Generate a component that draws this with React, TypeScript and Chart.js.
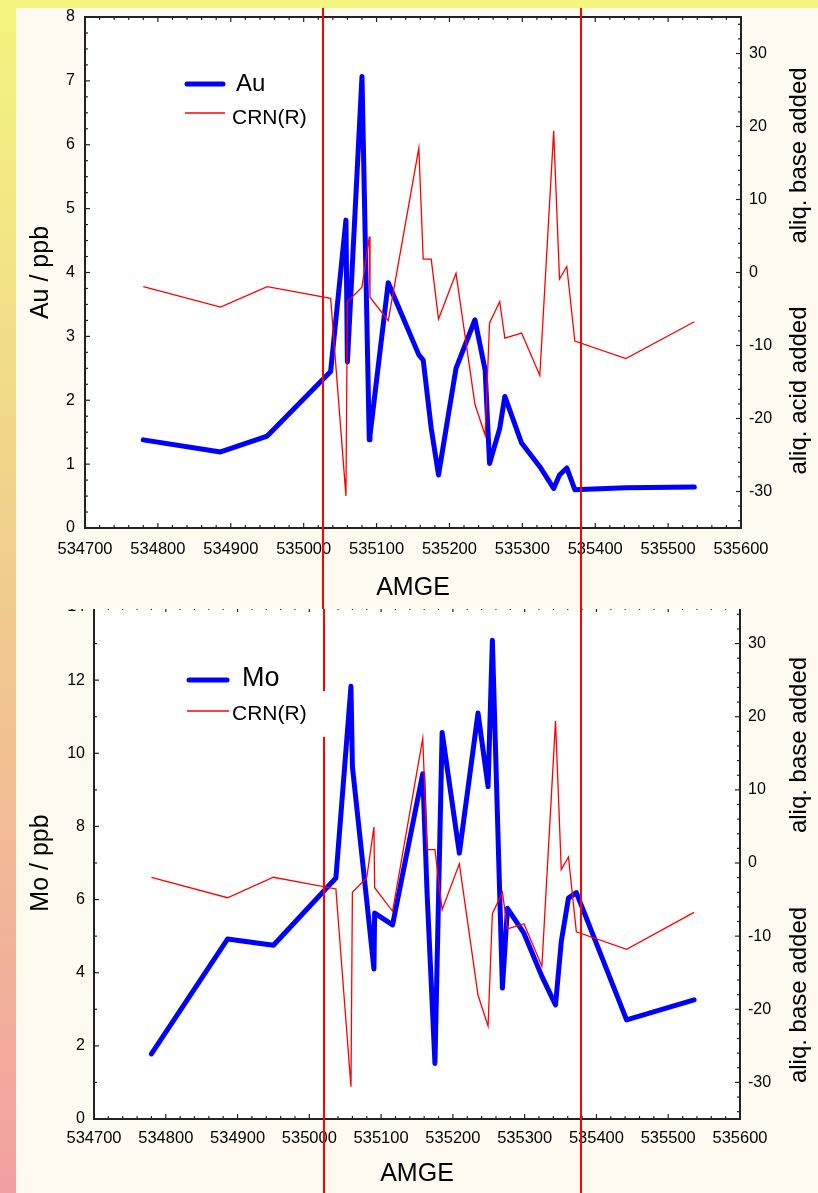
import React, { useEffect, useRef } from "react";
import { Chart, registerables } from "chart.js";

Chart.register(...registerables);

// ---------- data ----------
const AMGE = [
  534780, 534886, 534950, 535037, 535058, 535060, 535080, 535090, 535091, 535116,
  535158, 535164, 535175, 535185, 535209, 535235, 535249, 535255, 535269, 535276,
  535299, 535324, 535343, 535351, 535361, 535372, 535442, 535536,
];
const AU = [
  1.38, 1.19, 1.44, 2.45, 4.82, 2.6, 7.07, 1.38, 1.45, 3.84,
  2.71, 2.63, 1.56, 0.83, 2.5, 3.26, 2.47, 1.01, 1.56, 2.06,
  1.33, 0.96, 0.62, 0.83, 0.94, 0.6, 0.63, 0.64,
];
const MO = [
  1.78, 4.92, 4.75, 6.59, 11.83, 9.64, 5.97, 4.1, 5.63, 5.31,
  9.44, 6.2, 1.52, 10.57, 7.27, 11.1, 9.09, 13.09, 3.58, 5.76,
  5.08, 3.9, 3.12, 4.85, 6.04, 6.19, 2.71, 3.26,
];
const CRN = [
  -1.95, -4.75, -1.95, -3.55, -30.6, -4.0, -2.0, 4.92, -3.38, -6.6,
  17.05, 1.82, 1.82, -6.38, -0.12, -18.05, -22.3, -6.92, -4.0, -9.0,
  -8.3, -14.1, 19.4, -0.9, 0.82, -9.4, -11.8, -6.75,
];
const X_TICKS = [534700, 534800, 534900, 535000, 535100, 535200, 535300, 535400, 535500, 535600];
const AU_TICKS = [0, 1, 2, 3, 4, 5, 6, 7, 8];
const MO_TICKS = [0, 2, 4, 6, 8, 10, 12, 14];
const CRN_TICKS = [-30, -20, -10, 0, 10, 20, 30];
const AU_MARKERS = [535027, 535380];
const MO_MARKERS = [535020, 535379];

// ---------- styles ----------
const FONT = '"Liberation Sans", Arial, Helvetica, sans-serif';
const BLUE = "#0000FF";
const RED = "#FF0000";
const AXIS = "#222222";
const CREAM = "#FEFAF0";

type LegendCfg = {
  dx: number;
  dy: number;
  lineLen: number;
  rowGap: number;
  sizes: number[];
  gaps: number[];
  textDy: number[];
  patch: null | { l: number; r: number; t: number; b: number };
};

type PanelCfg = {
  label: string;
  values: number[];
  yMax: number;
  leftTicks: number[];
  leftMinor: number;
  markers: number[];
  leftTitle: string;
  rightTitles: string[];
  rightOffsets: number[];
  areaTop: number;
  leftWidth: number;
  rightWidth: number;
  bottomHeight: number;
  xLabelPad: number;
  yLabelPad: number;
  xTitleDy: number;
  legend: LegendCfg;
};

const UPPER: PanelCfg = {
  label: "Au",
  values: AU,
  yMax: 8,
  leftTicks: AU_TICKS,
  leftMinor: 0.25,
  markers: AU_MARKERS,
  leftTitle: "Au / ppb",
  rightTitles: ["aliq. base added", "aliq. acid added"],
  rightOffsets: [-117, 118],
  areaTop: 9,
  leftWidth: 69,
  rightWidth: 77,
  bottomHeight: 81,
  xLabelPad: 13,
  yLabelPad: 10,
  xTitleDy: 60,
  legend: {
    dx: 100,
    dy: 67,
    lineLen: 40,
    rowGap: 29,
    sizes: [24, 21],
    gaps: [11, 7],
    textDy: [0, 5],
    patch: null,
  },
};

const LOWER: PanelCfg = {
  label: "Mo",
  values: MO,
  yMax: 14,
  leftTicks: MO_TICKS,
  leftMinor: 1,
  markers: MO_MARKERS,
  leftTitle: "Mo / ppb",
  rightTitles: ["aliq. base added", "aliq. base added"],
  rightOffsets: [-118, 132],
  areaTop: 17,
  leftWidth: 78,
  rightWidth: 78,
  bottomHeight: 74,
  xLabelPad: 11,
  yLabelPad: 9,
  xTitleDy: 55,
  legend: {
    dx: 93,
    dy: 73,
    lineLen: 42,
    rowGap: 31,
    sizes: [27, 21],
    gaps: [13, 3],
    textDy: [-1, 3],
    patch: { l: -7, r: 140, t: -20, b: 26 },
  },
};

function stepValues(min: number, max: number, step: number): number[] {
  const out: number[] = [];
  const start = Math.ceil(min / step - 1e-9) * step;
  for (let v = start; v <= max + 1e-9; v += step) out.push(+v.toFixed(6));
  return out;
}

function clearPad(s: any) {
  s.paddingTop = 0;
  s.paddingBottom = 0;
  s.paddingLeft = 0;
  s.paddingRight = 0;
}

function makeDecor(cfg: PanelCfg) {
  return {
    id: "panelDecor",
    beforeDraw(chart: any) {
      const { ctx, chartArea: a } = chart;
      ctx.save();
      ctx.fillStyle = "#FFFFFF";
      ctx.fillRect(a.left, a.top, a.right - a.left, a.bottom - a.top);
      ctx.restore();
    },
    afterDatasetsDraw(chart: any) {
      const { ctx, chartArea: a, scales } = chart;
      ctx.save();
      ctx.strokeStyle = AXIS;
      ctx.lineWidth = 1.2;
      const seg = (x1: number, y1: number, x2: number, y2: number) => {
        ctx.beginPath();
        ctx.moveTo(x1, y1);
        ctx.lineTo(x2, y2);
        ctx.stroke();
      };
      const each = (scale: any, minorStep: number, fn: (p: number, len: number) => void) => {
        const majors = scale.ticks.map((t: any) => t.value);
        majors.forEach((v: number) => fn(scale.getPixelForValue(v), 5));
        stepValues(scale.min, scale.max, minorStep)
          .filter((v) => !majors.some((m: number) => Math.abs(m - v) < 1e-6))
          .forEach((v) => fn(scale.getPixelForValue(v), 3));
      };
      each(scales.x, 20, (p, len) => {
        seg(p, a.bottom, p, a.bottom - len);
        seg(p, a.top, p, a.top + len);
      });
      each(scales.y, cfg.leftMinor, (p, len) => seg(a.left, p, a.left + len, p));
      each(scales.y2, 2, (p, len) => seg(a.right, p, a.right - len, p));
      ctx.lineWidth = 2;
      ctx.strokeRect(a.left, a.top, a.right - a.left, a.bottom - a.top);
      ctx.restore();
    },
    afterDraw(chart: any) {
      const { ctx, chartArea: a, scales } = chart;
      ctx.save();
      // vertical marker lines
      ctx.strokeStyle = RED;
      ctx.lineWidth = 2;
      cfg.markers.forEach((m) => {
        const px = Math.round(scales.x.getPixelForValue(m));
        ctx.beginPath();
        ctx.moveTo(px, 0);
        ctx.lineTo(px, chart.height);
        ctx.stroke();
      });
      // titles
      ctx.fillStyle = "#000000";
      ctx.textAlign = "center";
      ctx.textBaseline = "alphabetic";
      const midY = (a.top + a.bottom) / 2;
      ctx.font = `25px ${FONT}`;
      ctx.save();
      ctx.translate(32, midY);
      ctx.rotate(-Math.PI / 2);
      ctx.fillText(cfg.leftTitle, 0, 0);
      ctx.restore();
      ctx.font = `24px ${FONT}`;
      cfg.rightTitles.forEach((t, i) => {
        ctx.save();
        ctx.translate(chart.width - 12, midY + cfg.rightOffsets[i]);
        ctx.rotate(-Math.PI / 2);
        ctx.fillText(t, 0, 0);
        ctx.restore();
      });
      ctx.font = `25px ${FONT}`;
      ctx.textBaseline = "middle";
      ctx.fillText("AMGE", (a.left + a.right) / 2, a.bottom + cfg.xTitleDy);
      // legend
      const lg = cfg.legend;
      const x0 = a.left + lg.dx;
      chart.data.datasets.forEach((ds: any, i: number) => {
        const y = a.top + lg.dy + i * lg.rowGap;
        if (i === 1 && lg.patch) {
          ctx.fillStyle = "#FFFFFF";
          ctx.fillRect(x0 + lg.patch.l, y + lg.patch.t, lg.patch.r - lg.patch.l, lg.patch.b - lg.patch.t);
        }
        ctx.strokeStyle = ds.borderColor;
        ctx.lineWidth = ds.borderWidth;
        ctx.lineCap = i === 0 ? "round" : "butt";
        ctx.beginPath();
        ctx.moveTo(x0 + (i === 0 ? 2 : 0), y);
        ctx.lineTo(x0 + lg.lineLen - (i === 0 ? 2 : 0), y);
        ctx.stroke();
        ctx.fillStyle = "#000000";
        ctx.textAlign = "left";
        ctx.textBaseline = "middle";
        ctx.font = `${lg.sizes[i]}px ${FONT}`;
        ctx.fillText(ds.label, x0 + lg.lineLen + lg.gaps[i], y + lg.textDy[i]);
      });
      ctx.restore();
    },
  };
}

function buildConfig(cfg: PanelCfg): any {
  const tickFont = (size: number) => ({ family: FONT, size, lineHeight: 1 });
  return {
    type: "line",
    data: {
      datasets: [
        {
          label: cfg.label,
          data: AMGE.map((x, i) => ({ x, y: cfg.values[i] })),
          yAxisID: "y",
          borderColor: BLUE,
          borderWidth: 5,
          borderJoinStyle: "round",
          borderCapStyle: "round",
          pointRadius: 0,
          tension: 0,
          fill: false,
          order: 1,
        },
        {
          label: "CRN(R)",
          data: AMGE.map((x, i) => ({ x, y: CRN[i] })),
          yAxisID: "y2",
          borderColor: RED,
          borderWidth: 1.3,
          pointRadius: 0,
          tension: 0,
          fill: false,
          order: 0,
        },
      ],
    },
    options: {
      responsive: false,
      maintainAspectRatio: false,
      animation: false,
      events: [],
      layout: { padding: { top: cfg.areaTop, left: 0, right: 0, bottom: 0 } },
      plugins: { legend: { display: false }, tooltip: { enabled: false } },
      scales: {
        x: {
          type: "linear",
          position: "bottom",
          min: 534700,
          max: 535600,
          grid: { display: false, drawTicks: false },
          border: { display: false },
          afterBuildTicks: (s: any) => {
            s.ticks = X_TICKS.map((v) => ({ value: v }));
          },
          afterFit: (s: any) => {
            s.height = cfg.bottomHeight;
            clearPad(s);
          },
          ticks: {
            color: "#000000",
            font: tickFont(16.5),
            padding: cfg.xLabelPad,
            maxRotation: 0,
            autoSkip: false,
            callback: (v: any) => String(v),
          },
        },
        y: {
          type: "linear",
          position: "left",
          min: 0,
          max: cfg.yMax,
          grid: { display: false, drawTicks: false },
          border: { display: false },
          afterBuildTicks: (s: any) => {
            s.ticks = cfg.leftTicks.map((v) => ({ value: v }));
          },
          afterFit: (s: any) => {
            s.width = cfg.leftWidth;
            clearPad(s);
          },
          ticks: {
            color: "#000000",
            font: tickFont(16),
            padding: cfg.yLabelPad,
            autoSkip: false,
            callback: (v: any) => String(v),
          },
        },
        y2: {
          type: "linear",
          position: "right",
          min: -35,
          max: 35,
          grid: { display: false, drawTicks: false },
          border: { display: false },
          afterBuildTicks: (s: any) => {
            s.ticks = CRN_TICKS.map((v) => ({ value: v }));
          },
          afterFit: (s: any) => {
            s.width = cfg.rightWidth;
            clearPad(s);
          },
          ticks: {
            color: "#000000",
            font: tickFont(16),
            padding: 8,
            autoSkip: false,
            callback: (v: any) => String(v),
          },
        },
      },
    },
    plugins: [makeDecor(cfg)],
  };
}

function Panel({ cfg, top, height, z }: { cfg: PanelCfg; top: number; height: number; z: number }) {
  const ref = useRef<HTMLCanvasElement>(null);
  useEffect(() => {
    if (!ref.current) return;
    const chart = new Chart(ref.current, buildConfig(cfg));
    return () => chart.destroy();
  }, [cfg]);
  return (
    <div
      style={{
        position: "absolute",
        left: 16,
        top,
        width: 802,
        height,
        background: CREAM,
        zIndex: z,
      }}
    >
      <canvas ref={ref} width={802} height={height} style={{ display: "block", width: 802, height }} />
    </div>
  );
}

export default function App() {
  return (
    <div
      style={{
        position: "absolute",
        left: 0,
        top: 0,
        width: 818,
        height: 1193,
        overflow: "hidden",
        background: "linear-gradient(to bottom, #F3F57F 0%, #F0CC8E 50%, #F2A0A0 100%)",
      }}
    >
      <div style={{ position: "absolute", left: 16, top: 8, width: 802, height: 1185, background: CREAM }} />
      <Panel cfg={LOWER} top={590} height={603} z={1} />
      <Panel cfg={UPPER} top={8} height={601} z={2} />
    </div>
  );
}
